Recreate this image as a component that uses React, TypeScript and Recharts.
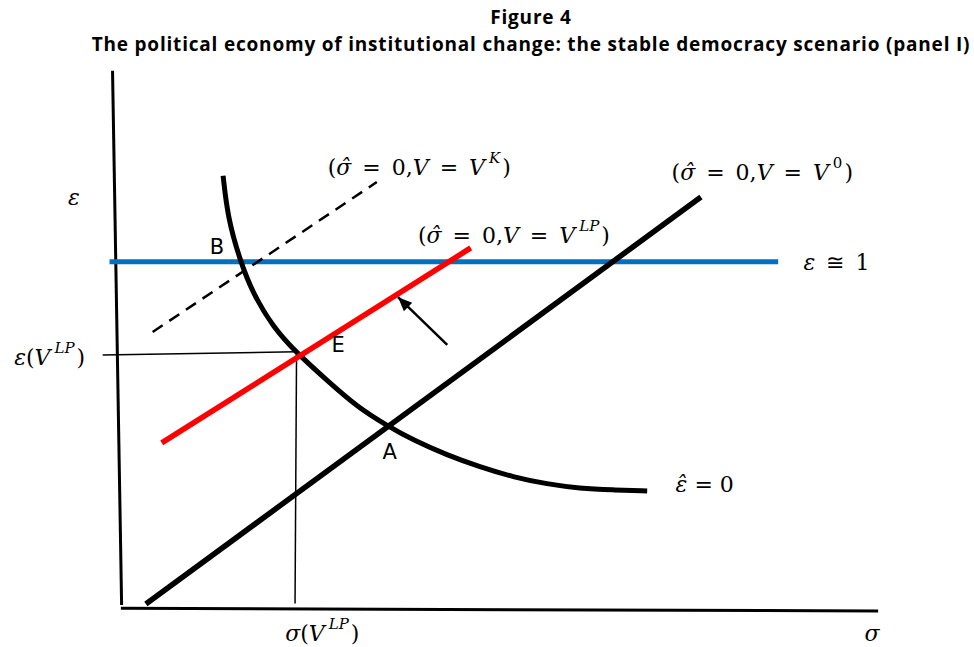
import { LineChart, Line, XAxis, YAxis, ReferenceDot } from 'recharts';

// conceptual diagram: sigma on x, epsilon on y (arbitrary units 0..10)
const axisX = [{ s: 0, e: -0.02 }, { s: 10, e: -0.07 }];
const axisY = [{ s: -0.11, e: 10.02 }, { s: 0.01, e: 0.04 }];

const lineV0 = [{ s: 0.33, e: 0.06 }, { s: 7.66, e: 7.66 }];
const lineVLP = [{ s: 0.54, e: 3.07 }, { s: 4.62, e: 6.71 }];
const lineVK = [{ s: 0.42, e: 5.14 }, { s: 3.38, e: 7.94 }];
const lineEps1 = [{ s: -0.15, e: 6.45 }, { s: 8.68, e: 6.45 }];

const guideH = [{ s: -0.24, e: 4.71 }, { s: 2.32, e: 4.77 }];
const guideV = [{ s: 2.32, e: 4.77 }, { s: 2.3, e: 0.07 }];
const arrow = [{ s: 4.31, e: 4.9 }, { s: 3.66, e: 5.79 }];

const curveEpsHat = [
  { s: 1.35, e: 8.06 },
  { s: 1.41, e: 7.29 },
  { s: 1.57, e: 6.49 },
  { s: 1.74, e: 5.87 },
  { s: 2.01, e: 5.23 },
  { s: 2.32, e: 4.75 },
  { s: 2.72, e: 4.24 },
  { s: 3.12, e: 3.74 },
  { s: 3.53, e: 3.38 },
  { s: 3.86, e: 3.12 },
  { s: 4.31, e: 2.84 },
  { s: 4.74, e: 2.62 },
  { s: 5.18, e: 2.43 },
  { s: 5.63, e: 2.3 },
  { s: 6.06, e: 2.22 },
  { s: 6.49, e: 2.19 },
  { s: 6.95, e: 2.17 },
];

type Part = { t: string; i?: boolean; sup?: boolean };

const pointLabels: { s: number; e: number; text: string }[] = [
  { s: 1.27, e: 6.73, text: 'B' },
  { s: 2.87, e: 4.9, text: 'E' },
  { s: 3.55, e: 2.9, text: 'A' },
];

const sig = 'σ\u0302';
const EQ = '\u2002=\u2002';
const mathLabels: { s: number; e: number; parts: Part[] }[] = [
  { s: -0.62, e: 7.66, parts: [{ t: 'ε', i: true }] },
  { s: -0.94, e: 4.67, parts: [{ t: 'ε', i: true }, { t: '(' }, { t: 'V', i: true }, { t: 'LP', i: true, sup: true }, { t: ')' }] },
  { s: 2.66, e: -0.49, parts: [{ t: 'σ', i: true }, { t: '(' }, { t: 'V', i: true }, { t: 'LP', i: true, sup: true }, { t: ')' }] },
  { s: 9.92, e: -0.49, parts: [{ t: 'σ', i: true }] },
  { s: 9.45, e: 6.45, parts: [{ t: 'ε', i: true }, { t: '\u2002≅\u20021' }] },
  { s: 7.71, e: 2.3, parts: [{ t: 'ε\u0302', i: true }, { t: ' = 0' }] },
  { s: 8.47, e: 8.13, parts: [{ t: '(' }, { t: sig, i: true }, { t: EQ + '0,' }, { t: 'V', i: true }, { t: EQ }, { t: 'V', i: true }, { t: '0', sup: true }, { t: ')' }] },
  { s: 3.94, e: 8.22, parts: [{ t: '(' }, { t: sig, i: true }, { t: EQ + '0,' }, { t: 'V', i: true }, { t: EQ }, { t: 'V', i: true }, { t: 'K', i: true, sup: true }, { t: ')' }] },
  { s: 5.19, e: 6.95, parts: [{ t: '(' }, { t: sig, i: true }, { t: EQ + '0,' }, { t: 'V', i: true }, { t: EQ }, { t: 'V', i: true }, { t: 'LP', i: true, sup: true }, { t: ')' }] },
];

const MATH_FONT = '"DejaVu Serif", serif';

function MathText({ cx, cy, parts }: any) {
  let raised = false;
  return (
    <text x={cx} y={cy} textAnchor="middle" dominantBaseline="central" fontFamily={MATH_FONT} fontSize={22} fill="#000">
      {parts.map((p: Part, k: number) => {
        let dy = 0;
        let dx = 0;
        if (p.sup && !raised) { dy = -9; dx = 4; raised = true; }
        else if (!p.sup && raised) { dy = 9; dx = 2; raised = false; }
        return (
          <tspan key={k} dx={dx} dy={dy} fontStyle={p.i ? 'italic' : 'normal'} fontSize={p.sup ? 15 : 22} style={{ whiteSpace: 'pre' }}>
            {p.t}
          </tspan>
        );
      })}
    </text>
  );
}

function ArrowHead(props: any) {
  const { cx, cy, index, points } = props;
  if (index !== 1 || !points) return <g key={index} />;
  const p0 = points[0];
  const ang = Math.atan2(cy - p0.y, cx - p0.x);
  const len = 14;
  const w = 6;
  const bx = cx - len * Math.cos(ang);
  const by = cy - len * Math.sin(ang);
  const px = -Math.sin(ang) * w;
  const py = Math.cos(ang) * w;
  return (
    <polygon
      key={index}
      points={`${cx},${cy} ${bx + px},${by + py} ${bx - px},${by - py}`}
      fill="#000"
    />
  );
}

const titleStyle = {
  position: 'absolute' as const,
  left: 81,
  width: 900,
  textAlign: 'center' as const,
  fontFamily: '"Open Sans", sans-serif',
  fontWeight: 700,
  fontSize: 19,
  letterSpacing: 0.8,
  lineHeight: '20px',
  color: '#000',
};

export default function App() {
  return (
    <div style={{ position: 'absolute', left: 0, top: 0, width: 974, height: 647, background: '#fff' }}>
      <div style={{ ...titleStyle, top: 6.5 }}>Figure 4</div>
      <div style={{ ...titleStyle, top: 33.5 }}>
        The political economy of institutional change: the stable democracy scenario (panel I)
      </div>
      <LineChart width={974} height={647} margin={{ top: 45, right: 58, bottom: 13, left: 83 }}>
        <XAxis type="number" dataKey="s" domain={[-0.5, 10.5]} hide allowDataOverflow />
        <YAxis type="number" dataKey="e" domain={[-0.5, 10.5]} hide allowDataOverflow />

        <Line data={axisX} dataKey="e" stroke="#000" strokeWidth={3} dot={false} isAnimationActive={false} />
        <Line data={axisY} dataKey="e" stroke="#000" strokeWidth={3} dot={false} isAnimationActive={false} />
        <Line data={guideH} dataKey="e" stroke="#000" strokeWidth={1.5} dot={false} isAnimationActive={false} />
        <Line data={guideV} dataKey="e" stroke="#000" strokeWidth={1.5} dot={false} isAnimationActive={false} />

        <Line data={lineEps1} dataKey="e" stroke="#0070c0" strokeWidth={5} dot={false} isAnimationActive={false} />
        <Line data={lineVK} dataKey="e" stroke="#000" strokeWidth={2.5} strokeDasharray="12 8" dot={false} isAnimationActive={false} />
        <Line data={lineV0} dataKey="e" stroke="#000" strokeWidth={5.5} dot={false} isAnimationActive={false} />
        <Line data={curveEpsHat} dataKey="e" type="basis" stroke="#000" strokeWidth={5} dot={false} isAnimationActive={false} />
        <Line data={lineVLP} dataKey="e" stroke="#ff0000" strokeWidth={5.5} dot={false} isAnimationActive={false} />
        <Line data={arrow} dataKey="e" stroke="#000" strokeWidth={2.5} dot={ArrowHead} isAnimationActive={false} />

        {pointLabels.map((p) => (
          <ReferenceDot
            key={p.text}
            x={p.s}
            y={p.e}
            ifOverflow="visible"
            shape={(sp: any) => (
              <text x={sp.cx} y={sp.cy} textAnchor="middle" dominantBaseline="central" fontFamily='"DejaVu Sans", sans-serif' fontSize={21} fill="#000">
                {p.text}
              </text>
            )}
          />
        ))}
        {mathLabels.map((m, k) => (
          <ReferenceDot
            key={`m${k}`}
            x={m.s}
            y={m.e}
            ifOverflow="visible"
            shape={(sp: any) => <MathText cx={sp.cx} cy={sp.cy} parts={m.parts} />}
          />
        ))}
      </LineChart>
    </div>
  );
}
